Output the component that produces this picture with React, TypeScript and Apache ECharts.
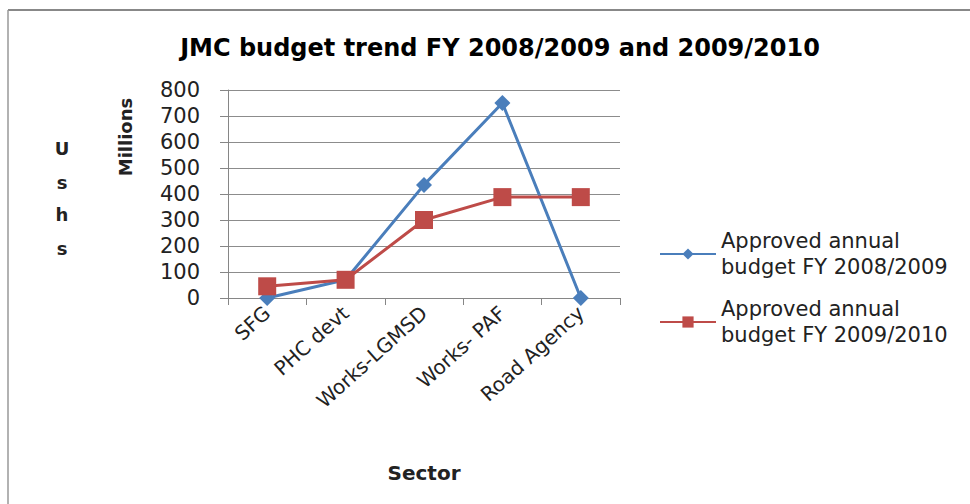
import React, { useEffect, useRef } from "react";
import * as echarts from "echarts";

const categories = ["SFG", "PHC devt", "Works-LGMSD", "Works- PAF", "Road Agency"];
const budget2008 = [0, 70, 435, 750, 0];
const budget2009 = [45, 70, 300, 388, 388];
const yTicks = { min: 0, max: 800, interval: 100 };
const seriesNames = ["Approved annual\nbudget FY 2008/2009", "Approved annual\nbudget FY 2009/2010"];

export default function App() {
  const ref = useRef<HTMLDivElement>(null);
  useEffect(() => {
    if (!ref.current) return;
    const chart = echarts.init(ref.current, null, { renderer: "svg" });
    const font = "'DejaVu Sans', 'Noto Sans', sans-serif";
    const bold = { fontWeight: "bold", fill: "#222", fontFamily: font };
    chart.setOption({
      animation: false,
      backgroundColor: "#ffffff",
      textStyle: { fontFamily: font },
      title: {
        text: "JMC budget trend FY 2008/2009 and 2009/2010",
        left: 495,
        textAlign: "center",
        top: 31,
        textStyle: { fontSize: 24, fontWeight: "bold", color: "#000", fontFamily: font },
      },
      grid: { left: 228, top: 90, right: 350, bottom: 206, containLabel: false },
      legend: {
        orient: "vertical",
        left: 654,
        top: 223,
        itemWidth: 56,
        itemHeight: 14,
        itemGap: 16,
        textStyle: { fontSize: 21, lineHeight: 26, color: "#222", fontFamily: font },
        data: seriesNames,
      },
      xAxis: {
        type: "category",
        data: categories,
        boundaryGap: true,
        axisLine: { lineStyle: { color: "#868686", width: 1 } },
        axisTick: { show: true, alignWithLabel: false, length: 7, lineStyle: { color: "#868686" } },
        axisLabel: { rotate: 42, fontSize: 20, color: "#222", margin: 12, interval: 0 },
        name: "Sector",
        nameLocation: "middle",
        nameGap: 165,
        nameTextStyle: { fontSize: 20, fontWeight: "bold", color: "#222" },
      },
      yAxis: {
        type: "value",
        min: yTicks.min,
        max: yTicks.max,
        interval: yTicks.interval,
        axisLine: { show: true, lineStyle: { color: "#868686" } },
        axisTick: { show: true, length: 8, lineStyle: { color: "#868686" } },
        axisLabel: { fontSize: 21, color: "#222", margin: 28 },
        splitLine: { lineStyle: { color: "#8c8c8c", width: 1 } },
      },
      graphic: [
        { type: "line", shape: { x1: 8, y1: 10, x2: 970, y2: 10 }, style: { stroke: "#888", lineWidth: 2 } },
        { type: "line", shape: { x1: 8, y1: 10, x2: 8, y2: 504 }, style: { stroke: "#999", lineWidth: 1.5 } },
        {
          type: "text",
          x: 125,
          y: 137,
          rotation: Math.PI / 2,
          style: { text: "Millions", fontSize: 18, ...bold, align: "center", verticalAlign: "middle" },
        },
        { type: "text", x: 62, y: 148, style: { text: "U", fontSize: 18, ...bold, align: "center", verticalAlign: "middle" } },
        { type: "text", x: 62, y: 182, style: { text: "s", fontSize: 18, ...bold, align: "center", verticalAlign: "middle" } },
        { type: "text", x: 62, y: 214, style: { text: "h", fontSize: 18, ...bold, align: "center", verticalAlign: "middle" } },
        { type: "text", x: 62, y: 248, style: { text: "s", fontSize: 18, ...bold, align: "center", verticalAlign: "middle" } },
      ],
      series: [
        {
          name: seriesNames[0],
          type: "line",
          data: budget2008,
          symbol: "diamond",
          symbolSize: 16,
          lineStyle: { color: "#4A7EBB", width: 3 },
          itemStyle: { color: "#4A7EBB" },
        },
        {
          name: seriesNames[1],
          type: "line",
          data: budget2009,
          symbol: "rect",
          symbolSize: 18,
          lineStyle: { color: "#BE4B48", width: 3 },
          itemStyle: { color: "#BE4B48" },
        },
      ],
    });
    return () => chart.dispose();
  }, []);
  return <div ref={ref} style={{ position: "fixed", left: 0, top: 0, width: 970, height: 504 }} />;
}
